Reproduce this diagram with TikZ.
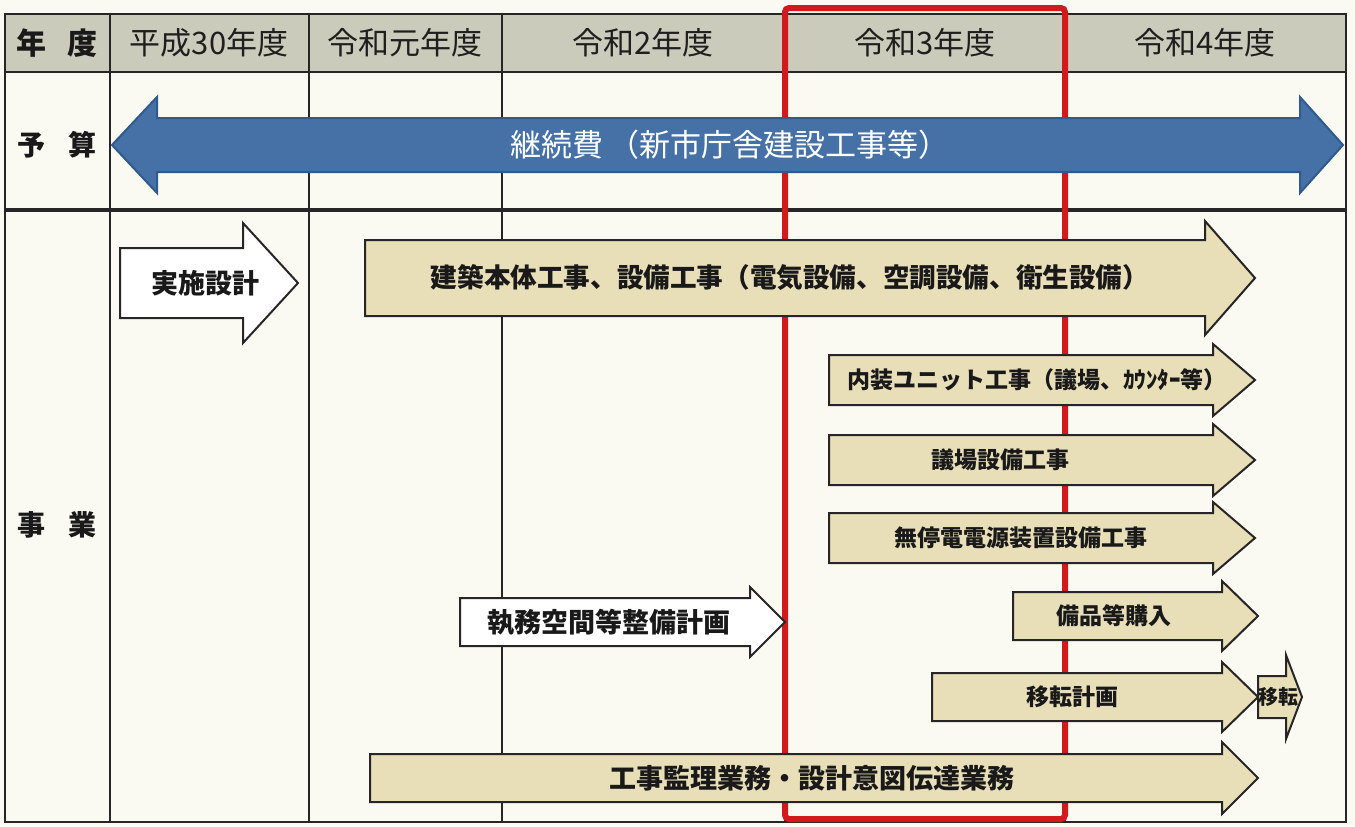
\documentclass[tikz,border=0pt]{standalone}
\usepackage{fontspec}
\setmainfont{Noto Sans CJK JP}
\definecolor{paper}{HTML}{FBFAF2}
\definecolor{headgray}{HTML}{CBCBBB}
\definecolor{tanfill}{HTML}{E8DEB8}
\definecolor{budgetblue}{HTML}{4571A6}
\definecolor{budgetedge}{HTML}{2F5A8C}
\definecolor{redframe}{HTML}{D11A1E}
\newcommand{\rarrow}[7]{%
  \draw[#1] (#2,{#5-#6}) -- (#3,{#5-#6}) -- (#3,{#5-#7}) -- (#4,#5) -- (#3,{#5+#7}) -- (#3,{#5+#6}) -- (#2,{#5+#6}) -- cycle;}
\begin{document}
\begin{tikzpicture}[x=0.5pt,y=-0.5pt,
  gridline/.style={draw=black!85,line width=0.9pt},
  tanarr/.style={draw=black!85,line width=1pt,fill=tanfill,line join=miter},
  whitearr/.style={draw=black!85,line width=1pt,fill=white,line join=miter},
  headtxt/.style={font=\fontsize{15.5}{18}\selectfont,text=black!88,inner sep=0pt},
  sidetxt/.style={font=\bfseries\fontsize{14}{16}\selectfont,text=black!90,inner sep=0pt},
  biglbl/.style={font=\bfseries\fontsize{13.5}{16}\selectfont,text=black!90,inner sep=0pt},
  smalllbl/.style={font=\bfseries\fontsize{11.5}{14}\selectfont,text=black!90,inner sep=0pt}]
% background / bounding box
\fill[paper] (0,0) rectangle (1355,826);
\useasboundingbox (0,0) rectangle (1355,826);
% header fill
\fill[headgray] (5,14) rectangle (1346,72);
% table lines
\draw[gridline] (5,14) rectangle (1346,822);
\draw[gridline] (5,72) -- (1346,72);
\draw[draw=black!85,line width=2pt] (5,210) -- (1346,210);
\foreach \x in {110,309,502,785,1065} \draw[gridline] (\x,14) -- (\x,822);
% header texts
\node[sidetxt,font=\bfseries\fontsize{15}{17}\selectfont] (hyear) at (57,43) {年\hspace{0.7em}度};
\node[headtxt] (h30) at (209,43) {平成30年度};
\node[headtxt] (hr1) at (405,43) {令和元年度};
\node[headtxt] (hr2) at (643,43) {令和2年度};
\node[headtxt] (hr3) at (925,43) {令和3年度};
\node[headtxt] (hr4) at (1205,43) {令和4年度};
\node[sidetxt] (budget) at (57,145) {予\hspace{0.8em}算};
\node[sidetxt] (jigyo) at (57,525) {事\hspace{0.8em}業};
% red frame (beneath arrows)
\draw[draw=redframe,line width=3pt,rounded corners=2pt] (785,8) rectangle (1065,819);
% budget double arrow
\draw[draw=budgetedge,line width=1pt,fill=budgetblue]
  (112,145) -- (157,97) -- (157,118) -- (1300,118) -- (1300,97) -- (1343,145)
  -- (1300,193) -- (1300,172) -- (157,172) -- (157,193) -- cycle;
\node[font=\fontsize{15.5}{18}\selectfont,text=white,inner sep=0pt] (keizoku) at (730,145) {継続費\hspace{0.15em}（新市庁舎建設工事等）};
% business arrows
\rarrow{whitearr}{120}{243}{298}{283}{35}{60}
\node[biglbl] (jisshi) at (205,283) {実施設計};
\rarrow{tanarr}{365}{1205}{1255}{278}{38}{57}
\node[biglbl,font=\bfseries\fontsize{13.3}{16}\selectfont] (kenchiku) at (790,278) {建築本体工事、設備工事（電気設備、空調設備、衛生設備）};
\rarrow{tanarr}{829}{1213}{1255}{380}{25}{36}
\node[smalllbl] (naiso) at (1037,380) {内装ユニット工事（議場、ｶｳﾝﾀｰ等）};
\rarrow{tanarr}{829}{1213}{1255}{460}{25}{36}
\node[smalllbl] (gijo) at (1000,460) {議場設備工事};
\rarrow{tanarr}{829}{1213}{1255}{538}{25}{36}
\node[smalllbl] (muteiden) at (1021,538) {無停電電源装置設備工事};
\rarrow{whitearr}{460}{750}{785}{622}{24}{35}
\node[biglbl] (shitsumu) at (609,622) {執務空間等整備計画};
\rarrow{tanarr}{1013}{1222}{1258}{616}{24}{35}
\node[smalllbl] (bihin) at (1114,616) {備品等購入};
\rarrow{tanarr}{932}{1222}{1258}{697}{24}{35}
\node[smalllbl] (itenkeikaku) at (1072,697) {移転計画};
\rarrow{tanarr}{1258}{1286}{1302}{697}{21}{42}
\node[smalllbl,font=\bfseries\fontsize{10}{12}\selectfont] (iten) at (1278,697) {移転};
\rarrow{tanarr}{370}{1222}{1258}{778}{24}{36}
\node[biglbl] (kanri) at (812,778) {工事監理業務・設計意図伝達業務};
\end{tikzpicture}
\end{document}
